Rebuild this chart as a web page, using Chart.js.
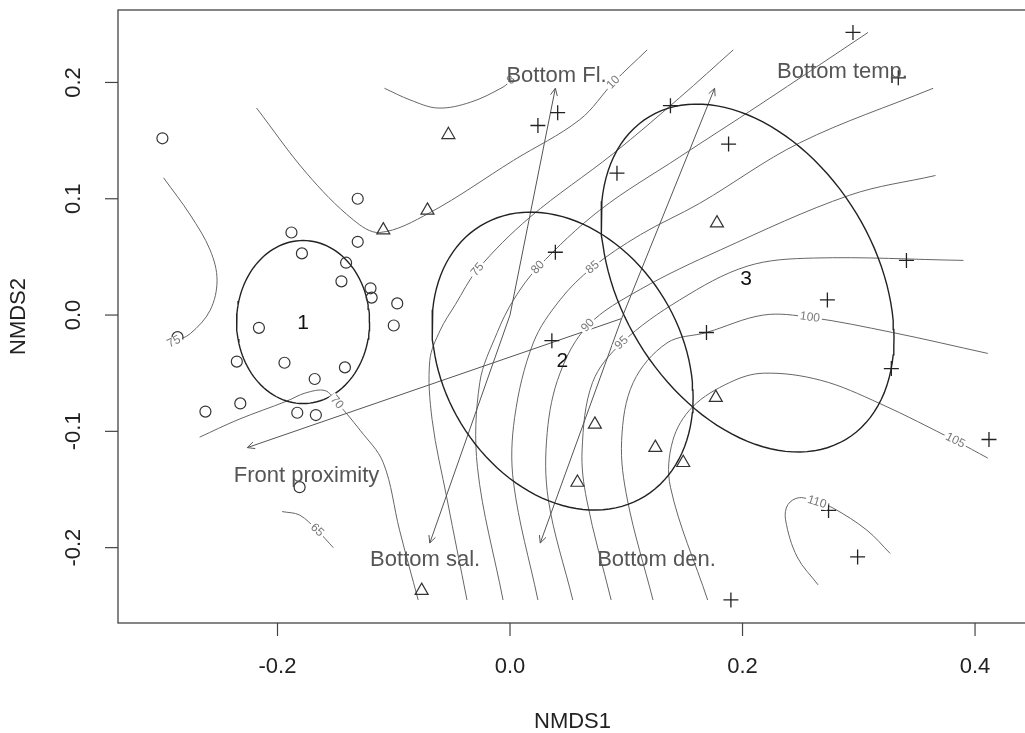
<!DOCTYPE html>
<html>
<head>
<meta charset="utf-8">
<script src="https://cdn.jsdelivr.net/npm/chart.js@4.4.1/dist/chart.umd.min.js"></script>
<style>
  html, body { margin: 0; padding: 0; background: #fff; overflow: hidden; }
  #wrap { width: 1060px; height: 733px; }
</style>
</head>
<body>
<div id="wrap"><canvas id="nmds" width="1060" height="733"></canvas></div>
<script>
// axis ticks
const xTicks = [-0.2, 0.0, 0.2, 0.4];
const yTicks = [-0.2, -0.1, 0.0, 0.1, 0.2];

// site scores (NMDS1, NMDS2) per cluster
const cluster1Sites = [
  [-0.299, 0.152], [-0.131, 0.100], [-0.188, 0.071], [-0.179, 0.053], [-0.131, 0.063],
  [-0.141, 0.045], [-0.145, 0.029], [-0.120, 0.023], [-0.119, 0.015], [-0.097, 0.010],
  [-0.100, -0.009], [-0.216, -0.011], [-0.286, -0.019], [-0.194, -0.041], [-0.235, -0.040],
  [-0.168, -0.055], [-0.142, -0.045], [-0.232, -0.076], [-0.262, -0.083], [-0.183, -0.084],
  [-0.167, -0.086], [-0.181, -0.148]
];
const cluster2Sites = [
  [-0.109, 0.073], [-0.053, 0.155], [-0.071, 0.090], [0.178, 0.079], [0.177, -0.071],
  [0.073, -0.094], [0.058, -0.144], [0.125, -0.114], [0.149, -0.127], [-0.076, -0.237]
];
const cluster3Sites = [
  [0.295, 0.243], [0.334, 0.204], [0.024, 0.163], [0.041, 0.174], [0.092, 0.122],
  [0.138, 0.180], [0.188, 0.147], [0.039, 0.054], [0.036, -0.022], [0.341, 0.047],
  [0.273, 0.013], [0.169, -0.015], [0.328, -0.046], [0.412, -0.107], [0.274, -0.168],
  [0.299, -0.208], [0.190, -0.245]
];

// cluster ellipses: centre, sd along axes, correlation
const clusterNames = ['1', '2', '3'];
const clusterLabelAt = [[-0.178, -0.007], [0.045, -0.040], [0.203, 0.031]];
const ellipseCentre = [[-0.178, -0.006], [0.0452, -0.0396], [0.2043, 0.0318]];
const ellipseSd = [[0.0572, 0.0701], [0.1123, 0.1281], [0.126, 0.1496]];
const ellipseCor = [0, -0.245, -0.345];

// fitted vectors
const vectorNames = ['Bottom Fl.', 'Bottom sal.', 'Bottom temp.', 'Bottom den.', 'Front proximity'];
const vectorFrom = [[0, 0], [0, 0], [0.096, -0.003], [0.096, -0.003], [0.096, -0.003]];
const vectorTo = [[0.039, 0.195], [-0.069, -0.196], [0.176, 0.195], [0.026, -0.196], [-0.226, -0.114]];
const vectorLabelAt = [[0.040, 0.206], [-0.073, -0.211], [0.286, 0.209], [0.126, -0.211], [-0.175, -0.138]];

// surface contours
const c75left = [[-0.298, 0.118], [-0.275, 0.086], [-0.258, 0.056], [-0.252, 0.030], [-0.258, 0.004], [-0.275, -0.016], [-0.289, -0.023]];
const c10 = [[-0.218, 0.178], [-0.175, 0.122], [-0.135, 0.082], [-0.112, 0.071], [-0.069, 0.088], [0.003, 0.133], [0.060, 0.168], [0.089, 0.200], [0.118, 0.228]];
const c8 = [[-0.108, 0.195], [-0.086, 0.185], [-0.062, 0.178], [-0.034, 0.183], [-0.006, 0.196], [0.001, 0.202]];
const c70 = [[-0.267, -0.105], [-0.234, -0.090], [-0.192, -0.074], [-0.176, -0.067], [-0.159, -0.065], [-0.149, -0.075], [-0.129, -0.099], [-0.109, -0.127], [-0.095, -0.185], [-0.079, -0.245]];
const c65 = [[-0.196, -0.169], [-0.181, -0.172], [-0.166, -0.185], [-0.152, -0.200]];
const c110 = [[0.265, -0.232], [0.247, -0.208], [0.237, -0.176], [0.239, -0.163], [0.249, -0.157], [0.264, -0.161], [0.278, -0.166], [0.307, -0.185], [0.327, -0.205]];
const c75 = [[-0.037, -0.245], [-0.054, -0.159], [-0.067, -0.090], [-0.069, -0.039], [-0.060, -0.013], [-0.047, 0.009], [-0.028, 0.039], [0.017, 0.084], [0.089, 0.139], [0.146, 0.187], [0.192, 0.228]];
const c80 = [[-0.006, -0.245], [-0.028, -0.131], [-0.026, -0.058], [-0.011, -0.015], [0.003, 0.013], [0.024, 0.041], [0.077, 0.090], [0.146, 0.136], [0.215, 0.181], [0.308, 0.243]];
const c85 = [[0.024, -0.245], [0.003, -0.144], [0.004, -0.088], [0.020, -0.024], [0.043, 0.013], [0.071, 0.041], [0.112, 0.069], [0.163, 0.096], [0.249, 0.148], [0.364, 0.195]];
const c90 = [[0.054, -0.245], [0.033, -0.159], [0.032, -0.101], [0.043, -0.050], [0.067, -0.009], [0.112, 0.022], [0.181, 0.056], [0.292, 0.103], [0.366, 0.120]];
const c95 = [[0.087, -0.245], [0.066, -0.159], [0.062, -0.116], [0.071, -0.058], [0.096, -0.024], [0.146, 0.013], [0.204, 0.042], [0.261, 0.049], [0.390, 0.047]];
const c100 = [[0.123, -0.245], [0.101, -0.159], [0.096, -0.108], [0.106, -0.058], [0.135, -0.024], [0.169, -0.015], [0.218, 0.000], [0.258, -0.002], [0.329, -0.015], [0.411, -0.033]];
const c105 = [[0.170, -0.245], [0.138, -0.148], [0.140, -0.108], [0.157, -0.079], [0.189, -0.058], [0.218, -0.050], [0.267, -0.056], [0.318, -0.076], [0.383, -0.108], [0.411, -0.123]];

const contourLevels = ['75', '10', '8', '70', '65', '110', '75', '80', '85', '90', '95', '100', '105'];
const contourPaths = [c75left, c10, c8, c70, c65, c110, c75, c80, c85, c90, c95, c100, c105];
const contourLabelIdx = [6, 7, 5, 5, 2, 5, 6, 5, 5, 4, 4, 7, 8];

const FONT = '"Liberation Sans", Arial, sans-serif';
const toXY = p => ({ x: p[0], y: p[1] });

function ellipsePath(i) {
  const pts = [];
  const [cx, cy] = ellipseCentre[i];
  const [sx, sy] = ellipseSd[i];
  const r = ellipseCor[i];
  for (let k = 0; k <= 120; k++) {
    const t = k / 120 * Math.PI * 2;
    pts.push({ x: cx + sx * Math.cos(t), y: cy + sy * (r * Math.cos(t) + Math.sqrt(1 - r * r) * Math.sin(t)) });
  }
  return pts;
}

const datasets = [];
contourPaths.forEach((path, i) => {
  datasets.push({
    label: 'contour ' + contourLevels[i], data: path.map(toXY), showLine: true,
    borderColor: '#666', borderWidth: 1, pointRadius: 0, tension: 0.35, order: 5
  });
});
vectorNames.forEach((name, i) => {
  datasets.push({
    label: name, data: [toXY(vectorFrom[i]), toXY(vectorTo[i])], showLine: true,
    borderColor: '#555', borderWidth: 1, pointRadius: 0, order: 4
  });
});
clusterNames.forEach((name, i) => {
  datasets.push({
    label: 'ellipse ' + name, data: ellipsePath(i), showLine: true,
    borderColor: '#222', borderWidth: 1.4, pointRadius: 0, tension: 0, order: 3
  });
});
datasets.push({ label: 'cluster 1', data: cluster1Sites.map(toXY), pointStyle: 'circle', pointRadius: 5.5,
  borderColor: '#333', backgroundColor: 'rgba(0,0,0,0)', borderWidth: 1.2, order: 1 });
datasets.push({ label: 'cluster 2', data: cluster2Sites.map(toXY), pointStyle: 'triangle', pointRadius: 7.5,
  borderColor: '#333', backgroundColor: 'rgba(0,0,0,0)', borderWidth: 1.2, order: 1 });
datasets.push({ label: 'cluster 3', data: cluster3Sites.map(toXY), pointStyle: 'cross', pointRadius: 7.5,
  borderColor: '#222', backgroundColor: 'rgba(0,0,0,0)', borderWidth: 1.3, order: 1 });

// R-like frame, axes and annotations
const rDecor = {
  id: 'rDecor',
  afterDatasetsDraw(chart) {
    const { ctx, scales: { x, y } } = chart;
    ctx.save();
    // contour labels
    ctx.font = '12px ' + FONT;
    ctx.textAlign = 'center';
    ctx.textBaseline = 'middle';
    contourPaths.forEach((path, i) => {
      const k = contourLabelIdx[i];
      const a = path[Math.max(0, k - 1)], b = path[Math.min(path.length - 1, k + 1)];
      let ang = Math.atan2(y.getPixelForValue(b[1]) - y.getPixelForValue(a[1]), x.getPixelForValue(b[0]) - x.getPixelForValue(a[0]));
      if (ang > Math.PI / 2) ang -= Math.PI;
      if (ang < -Math.PI / 2) ang += Math.PI;
      const px = x.getPixelForValue(path[k][0]), py = y.getPixelForValue(path[k][1]);
      const w = ctx.measureText(contourLevels[i]).width + 4;
      ctx.save();
      ctx.translate(px, py);
      ctx.rotate(ang);
      ctx.fillStyle = '#fff';
      ctx.fillRect(-w / 2, -5, w, 10);
      ctx.fillStyle = '#777';
      ctx.fillText(contourLevels[i], 0, 0);
      ctx.restore();
    });
    // arrow heads
    ctx.strokeStyle = '#555';
    ctx.lineWidth = 1;
    vectorNames.forEach((name, i) => {
      const x0 = x.getPixelForValue(vectorFrom[i][0]), y0 = y.getPixelForValue(vectorFrom[i][1]);
      const x1 = x.getPixelForValue(vectorTo[i][0]), y1 = y.getPixelForValue(vectorTo[i][1]);
      const ang = Math.atan2(y1 - y0, x1 - x0);
      const L = 8, spread = Math.PI / 7;
      ctx.beginPath();
      ctx.moveTo(x1 - L * Math.cos(ang - spread), y1 - L * Math.sin(ang - spread));
      ctx.lineTo(x1, y1);
      ctx.lineTo(x1 - L * Math.cos(ang + spread), y1 - L * Math.sin(ang + spread));
      ctx.stroke();
    });
    // vector labels
    ctx.font = '22px ' + FONT;
    ctx.fillStyle = '#555';
    vectorNames.forEach((name, i) => {
      ctx.fillText(name, x.getPixelForValue(vectorLabelAt[i][0]), y.getPixelForValue(vectorLabelAt[i][1]));
    });
    // cluster numbers
    ctx.font = '21px ' + FONT;
    ctx.fillStyle = '#111';
    clusterNames.forEach((name, i) => {
      ctx.fillText(name, x.getPixelForValue(clusterLabelAt[i][0]), y.getPixelForValue(clusterLabelAt[i][1]));
    });
    ctx.restore();
  },
  afterDraw(chart) {
    const { ctx, chartArea: a, scales: { x, y } } = chart;
    ctx.save();
    ctx.strokeStyle = '#444';
    ctx.lineWidth = 1.3;
    ctx.strokeRect(a.left, a.top, a.right - a.left, a.bottom - a.top);
    ctx.font = '22px ' + FONT;
    ctx.fillStyle = '#222';
    ctx.textAlign = 'center';
    ctx.textBaseline = 'middle';
    ctx.lineWidth = 1.2;
    x.ticks.forEach(t => {
      const px = x.getPixelForValue(t.value);
      ctx.beginPath(); ctx.moveTo(px, a.bottom); ctx.lineTo(px, a.bottom + 13); ctx.stroke();
      ctx.fillText(t.value.toFixed(1), px, a.bottom + 44);
    });
    y.ticks.forEach(t => {
      const py = y.getPixelForValue(t.value);
      ctx.beginPath(); ctx.moveTo(a.left, py); ctx.lineTo(a.left - 13, py); ctx.stroke();
      ctx.save();
      ctx.translate(a.left - 44, py);
      ctx.rotate(-Math.PI / 2);
      ctx.fillText(t.value.toFixed(1), 0, 0);
      ctx.restore();
    });
    ctx.fillText('NMDS1', (a.left + a.right) / 2, a.bottom + 99);
    ctx.save();
    ctx.translate(a.left - 99, (a.top + a.bottom) / 2);
    ctx.rotate(-Math.PI / 2);
    ctx.fillText('NMDS2', 0, 0);
    ctx.restore();
    ctx.restore();
  }
};

new Chart(document.getElementById('nmds'), {
  type: 'scatter',
  data: { datasets },
  options: {
    responsive: false,
    animation: false,
    layout: { padding: { left: 0, right: 33, top: 10, bottom: 0 } },
    plugins: { legend: { display: false }, tooltip: { enabled: false } },
    scales: {
      x: {
        type: 'linear', min: -0.3372, max: 0.4447,
        afterBuildTicks: s => { s.ticks = xTicks.map(v => ({ value: v })); },
        afterFit: s => { s.height = 110; },
        ticks: { display: false }, grid: { display: false }, border: { display: false }
      },
      y: {
        type: 'linear', min: -0.2648, max: 0.2623,
        afterBuildTicks: s => { s.ticks = yTicks.map(v => ({ value: v })); },
        afterFit: s => { s.width = 118; },
        ticks: { display: false }, grid: { display: false }, border: { display: false }
      }
    }
  },
  plugins: [rDecor]
});
</script>
</body>
</html>
